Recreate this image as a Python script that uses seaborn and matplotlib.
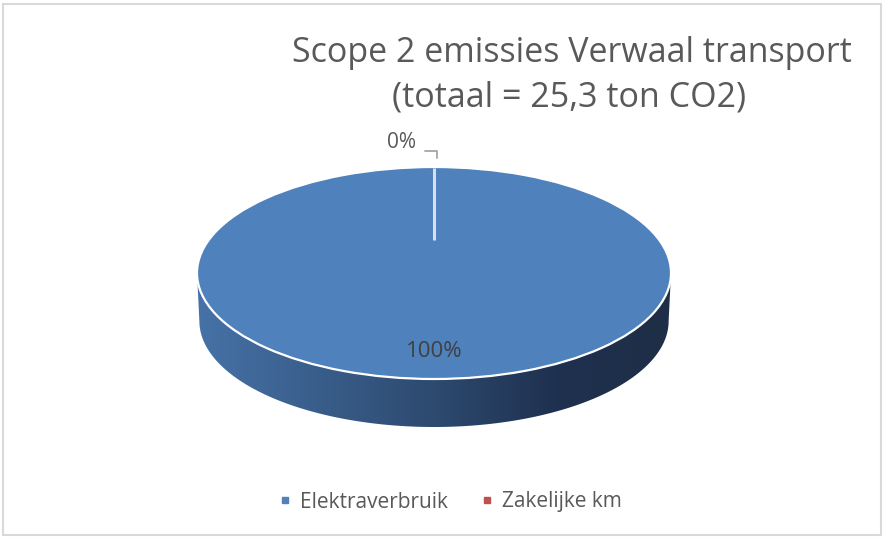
import numpy as np
import matplotlib
matplotlib.use("Agg")
import matplotlib.pyplot as plt
import seaborn as sns
from matplotlib.patches import Polygon, Rectangle
from matplotlib.lines import Line2D
from matplotlib.colors import LinearSegmentedColormap

# ---- data ----
categories = ["Elektraverbruik", "Zakelijke km"]
values = [25.3, 0.0]
title_lines = ["Scope 2 emissies Verwaal transport", "(totaal = 25,3 ton CO2)"]

sns.set_theme(style="white")
plt.rcParams['font.family'] = ['Open Sans', 'DejaVu Sans']

colors = sns.color_palette(["#4F81BD", "#C0504D"])

W, H = 883, 538
fig = plt.figure(figsize=(W / 100, H / 100), dpi=100)
fig.patch.set_facecolor("white")

# pie geometry (pixels)
cx, cy = 434, 273
rx, ry = 237, 106
depth = 48 / ry


def to_data(px, py):
    return (px - cx) / rx, (cy - py) / ry


ax = fig.add_axes([0, 0, 1, 1])

# side of the 3D pie (gradient)
t = np.linspace(np.pi, 2 * np.pi, 300)
top = np.column_stack([np.cos(t), np.sin(t)])
bot = np.column_stack([np.cos(t) * 0.99, np.sin(t) * 1.0 - depth])[::-1]
side = Polygon(np.vstack([top, bot]), closed=True, facecolor="none", edgecolor="none")
ax.add_patch(side)
cmap = LinearSegmentedColormap.from_list(
    "side", [(0.0, "#4672A7"), (0.5, "#2D4A6F"), (0.75, "#1F3150"), (1.0, "#1E2E46")])
grad = np.linspace(0, 1, 256).reshape(1, -1)
im = ax.imshow(grad, cmap=cmap, extent=(-1, 1, -1 - depth, 0.01), aspect="auto",
               zorder=1, interpolation="bilinear")
im.set_clip_path(side)

# top face
wedges, _ = ax.pie(values, colors=colors, startangle=90, counterclock=False,
                   radius=1, center=(0, 0),
                   wedgeprops=dict(edgecolor="white", linewidth=1.6, zorder=2))
for w, v in zip(wedges, values):
    if v == 0:
        w.set_linewidth(0)

ax.set_aspect("auto")
x0, _ = to_data(0, 0)
x1, _ = to_data(W, 0)
_, y0 = to_data(0, H)
_, y1 = to_data(0, 0)
ax.set_xlim(x0, x1)
ax.set_ylim(y0, y1)
ax.axis("off")

# separator line at slice boundary (perspective centre)
total = sum(values)
ang = np.deg2rad(90)
persp_y = (cy - 240) / ry
ax.plot([0, np.cos(ang)], [persp_y, np.sin(ang) * 0.995], color="#D6E0EE", lw=2.2, zorder=3,
        solid_capstyle="butt")

# data labels
pcts = [f"{v / total * 100:.0f}%" for v in values]
ax.text(0, -0.745, pcts[0], ha="center", va="center", fontsize=16, color="#404040", zorder=4)
lx, ly = to_data(401, 143)
ax.text(lx, ly, pcts[1], ha="center", va="center", fontsize=15, color="#595959", zorder=4)
p1 = to_data(425, 151)
p2 = to_data(437, 151)
p3 = to_data(437, 158)
ax.plot([p1[0], p2[0], p3[0]], [p1[1], p2[1], p3[1]], color="#A6A6A6", lw=1.3, zorder=4)

# title
fig.text(572 / W, 1 - 62 / H, title_lines[0], ha="center", va="baseline",
         fontsize=24.5, color="#595959")
fig.text(569 / W, 1 - 107 / H, title_lines[1], ha="center", va="baseline",
         fontsize=24.5, color="#595959")

# legend
handles = [Line2D([0], [0], marker="s", linestyle="none", markersize=5,
                  markerfacecolor=c, markeredgecolor=c) for c in colors]
leg = fig.legend(handles, categories, loc="center", bbox_to_anchor=(449 / W, 1 - 502 / H),
                 ncol=2, frameon=False, fontsize=15, handletextpad=0.32, columnspacing=1.5,
                 handlelength=0.8)
for txt in leg.get_texts():
    txt.set_color("#595959")

# chart border
fig.add_artist(Rectangle((3 / W, 3 / H), 878 / W, 531 / H, transform=fig.transFigure,
                         fill=False, edgecolor="#D9D9D9", lw=1.5))

fig.savefig("out.png", dpi=100, facecolor="white")
